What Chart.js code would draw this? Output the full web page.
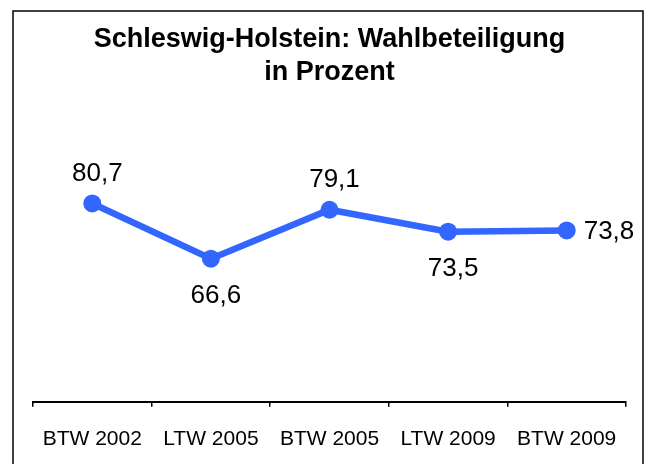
<!DOCTYPE html>
<html>
<head>
<meta charset="utf-8">
<script src="https://cdn.jsdelivr.net/npm/chart.js@4"></script>
<style>
  html, body { margin: 0; padding: 0; background: #fff; }
  #wrap { width: 651px; height: 464px; position: relative; }
</style>
</head>
<body>
<div id="wrap"><canvas id="chart" width="651" height="464"></canvas></div>
<script>
// Wahlbeteiligung Schleswig-Holstein
const labels = ["BTW 2002", "LTW 2005", "BTW 2005", "LTW 2009", "BTW 2009"];
const turnout = [80.7, 66.6, 79.1, 73.5, 73.8];

const FONT = "'Liberation Sans', Arial, sans-serif";

// where each value label sits relative to its point
const labelPlacement = ["above", "below", "above", "below", "right"];

// frame round the whole chart (open at the bottom, like the picture)
const framePlugin = {
    id: "frame",
    beforeDraw(chart) {
        const ctx = chart.ctx;
        ctx.save();
        ctx.fillStyle = "#fff";
        ctx.fillRect(0, 0, chart.width, chart.height);
        ctx.strokeStyle = "#000";
        ctx.lineWidth = 1.5;
        ctx.beginPath();
        ctx.moveTo(13, chart.height + 2);
        ctx.lineTo(13, 11);
        ctx.lineTo(643, 11);
        ctx.lineTo(643, chart.height + 2);
        ctx.stroke();
        ctx.restore();
    },
};

// value labels with a German decimal comma
const valueLabels = {
    id: "valueLabels",
    afterDatasetsDraw(chart) {
        const ctx = chart.ctx;
        const meta = chart.getDatasetMeta(0);
        ctx.save();
        ctx.font = "26px " + FONT;
        ctx.fillStyle = "#000";
        meta.data.forEach((pt, i) => {
            const text = turnout[i].toFixed(1).replace(".", ",");
            const pos = labelPlacement[i];
            if (pos === "right") {
                ctx.textAlign = "left";
                ctx.textBaseline = "middle";
                ctx.fillText(text, pt.x + 17, pt.y + 1);
            } else {
                ctx.textAlign = "center";
                ctx.textBaseline = "middle";
                const dy = pos === "above" ? -30 : 37;
                ctx.fillText(text, pt.x + 5, pt.y + dy);
            }
        });
        ctx.restore();
    },
};

new Chart(document.getElementById("chart"), {
    type: "line",
    data: {
        labels: labels,
        datasets: [
            {
                data: turnout,
                borderColor: "#3366ff",
                backgroundColor: "#3366ff",
                borderWidth: 6.5,
                pointRadius: 9,
                pointHoverRadius: 9,
                pointBorderWidth: 0,
                tension: 0,
                clip: false,
            },
        ],
    },
    options: {
        responsive: false,
        animation: false,
        events: [],
        layout: {
            padding: { left: 33, right: 25, top: 0, bottom: -8 },
        },
        plugins: {
            legend: { display: false },
            tooltip: { enabled: false },
            title: {
                display: true,
                text: ["Schleswig-Holstein: Wahlbeteiligung", "in Prozent"],
                color: "#000",
                fullSize: false,
                font: { family: FONT, size: 27, weight: "bold", lineHeight: 1.222 },
                padding: { top: 23, bottom: 39 },
            },
        },
        scales: {
            x: {
                offset: true,
                grid: {
                    offset: true,
                    drawOnChartArea: false,
                    tickLength: 5,
                    color: "#000",
                    lineWidth: 1.5,
                },
                border: { color: "#000", width: 2 },
                ticks: {
                    color: "#000",
                    padding: 20,
                    font: { family: FONT, size: 21 },
                },
            },
            y: {
                display: false,
                min: 30,
                max: 100,
            },
        },
    },
    plugins: [framePlugin, valueLabels],
});
</script>
</body>
</html>
